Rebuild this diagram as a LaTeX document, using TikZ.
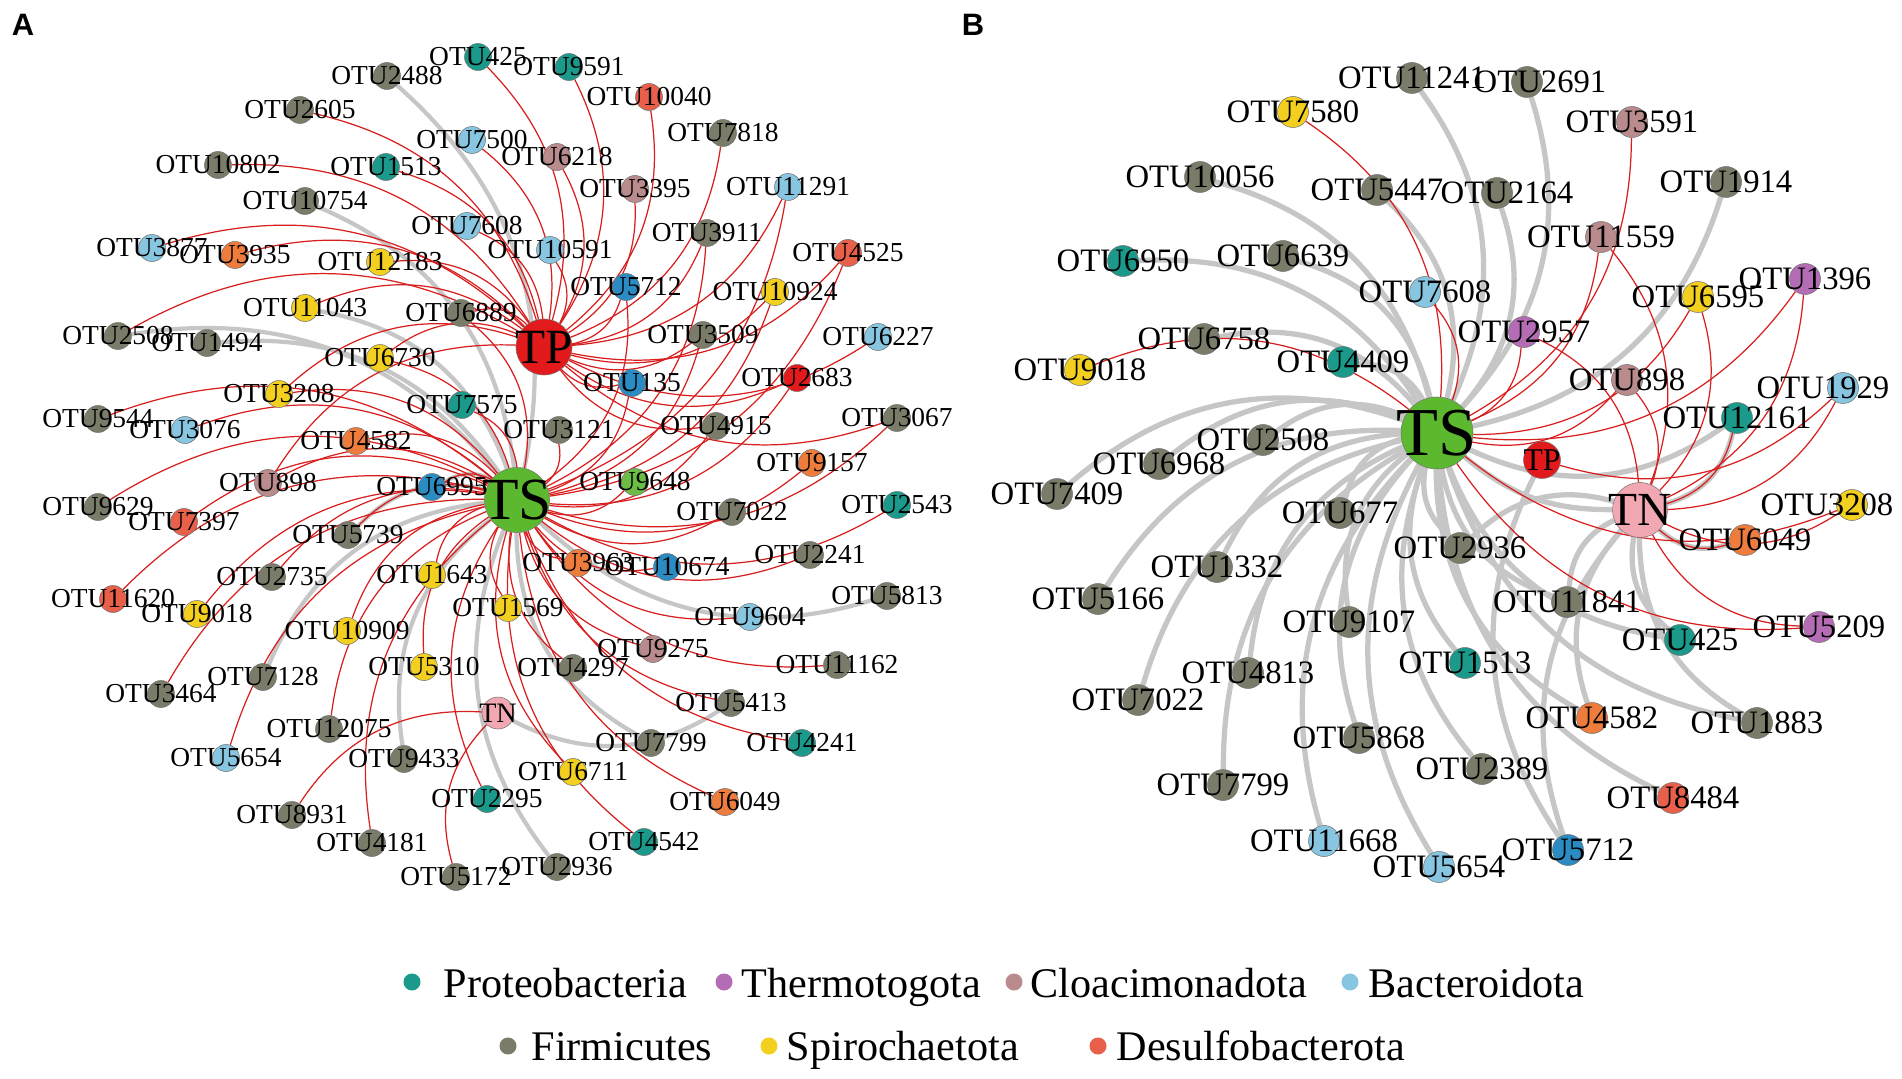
\documentclass[tikz,border=0pt]{standalone}
\usepackage{fontspec}
\setmainfont{Liberation Serif}
\setsansfont{Liberation Sans}
\usetikzlibrary{positioning}
\pgfdeclarelayer{background}
\pgfsetlayers{background,main}

\definecolor{proteo}{HTML}{1B9A8C}
\definecolor{thermo}{HTML}{B46CB4}
\definecolor{cloaci}{HTML}{B98B8C}
\definecolor{bactero}{HTML}{87C5E1}
\definecolor{firmi}{HTML}{7B7B69}
\definecolor{spiro}{HTML}{F3CF1F}
\definecolor{desulfo}{HTML}{E9604A}
\definecolor{orng}{HTML}{EE7C3C}
\definecolor{dblue}{HTML}{2A8CC3}
\definecolor{bred}{HTML}{E31A1C}
\definecolor{tsgreen}{HTML}{5CB82E}
\definecolor{lgreen}{HTML}{6CBD45}
\definecolor{tnpink}{HTML}{F2A8B2}
\definecolor{edgered}{HTML}{D81E1E}
\definecolor{edgegray}{HTML}{C6C6C6}

\tikzset{
  otua/.style={circle,draw=black!55,line width=0.15pt,minimum size=0.27cm,inner sep=0pt},
  otub/.style={otua,minimum size=0.31cm},
  lbla/.style={inner sep=0pt,font=\fontsize{7.8}{8}\selectfont},
  lblb/.style={inner sep=0pt,font=\fontsize{9.3}{10}\selectfont},
  hub/.style={circle,draw=black!55,line width=0.15pt,inner sep=0pt},
  redge/.style={draw=edgered,line width=0.35pt},
  gedge/.style={draw=edgegray,line width=1.2pt},
  gedgeb/.style={draw=edgegray,line width=1.5pt},
  ldot/.style={circle,inner sep=0pt,minimum size=0.17cm},
  ltxt/.style={anchor=base west,inner sep=0pt,font=\fontsize{12}{13}\selectfont},
  panel/.style={inner sep=0pt,font=\sffamily\bfseries\fontsize{8.8}{9}\selectfont},
}

% one OTU: [label shift], panel, number, position, colour
\newcommand{\otu}[5][0]{%
  \node[otu#2,fill=#5] (#2#3) at (#4) {};
  \node[lbl#2,xshift=#1*0.01cm] (#2#3t) at (#2#3) {OTU#3};}

\begin{document}
\begin{tikzpicture}[x=0.01cm,y=-0.01cm]
\useasboundingbox (0,0) rectangle (1902,1079);

\node[panel] (pA) at (23,25) {A};
\node[panel] (pB) at (973,25) {B};

% panel A hubs
\node[hub,fill=bred,minimum size=0.56cm] (aTP) at (544,347) {};
\node[hub,fill=tsgreen,minimum size=0.65cm] (aTS) at (517,500) {};
\node[hub,fill=tnpink,minimum size=0.32cm] (aTN) at (498,713) {};

% panel A OTUs
\otu{a}{425}{478,57}{proteo}
\otu{a}{9591}{569,67}{proteo}
\otu{a}{2488}{387,76}{firmi}
\otu{a}{10040}{649,97}{desulfo}
\otu{a}{2605}{300,110}{firmi}
\otu{a}{7818}{723,133}{firmi}
\otu{a}{7500}{472,140}{bactero}
\otu{a}{6218}{557,157}{cloaci}
\otu{a}{10802}{218,165}{firmi}
\otu{a}{1513}{386,167}{proteo}
\otu{a}{3395}{635,189}{cloaci}
\otu{a}{11291}{788,187}{bactero}
\otu{a}{10754}{305,201}{firmi}
\otu{a}{7608}{467,226}{bactero}
\otu{a}{3911}{707,233}{firmi}
\otu{a}{3877}{152,248}{bactero}
\otu{a}{3935}{235,255}{orng}
\otu{a}{12183}{380,262}{spiro}
\otu{a}{10591}{550,250}{bactero}
\otu{a}{4525}{848,253}{desulfo}
\otu{a}{5712}{626,287}{dblue}
\otu{a}{10924}{775,292}{spiro}
\otu{a}{11043}{305,308}{spiro}
\otu{a}{6889}{461,313}{firmi}
\otu{a}{2508}{118,336}{firmi}
\otu{a}{1494}{207,343}{firmi}
\otu{a}{3509}{703,335}{firmi}
\otu{a}{6227}{878,337}{bactero}
\otu{a}{6730}{380,358}{spiro}
\otu{a}{3208}{279,394}{spiro}
\otu{a}{135}{632,383}{dblue}
\otu{a}{2683}{797,378}{bred}
\otu{a}{7575}{462,405}{proteo}
\otu{a}{9544}{98,419}{firmi}
\otu{a}{3076}{185,430}{bactero}
\otu{a}{3121}{559,430}{firmi}
\otu{a}{4915}{716,426}{firmi}
\otu{a}{3067}{897,418}{firmi}
\otu{a}{4582}{356,441}{orng}
\otu{a}{9157}{812,463}{orng}
\otu{a}{898}{268,483}{cloaci}
\otu{a}{6995}{432,487}{dblue}
\otu{a}{9648}{635,482}{lgreen}
\otu{a}{9629}{98,507}{firmi}
\otu{a}{7397}{184,522}{desulfo}
\otu{a}{7022}{732,512}{firmi}
\otu{a}{2543}{897,505}{proteo}
\otu{a}{5739}{348,535}{firmi}
\otu{a}{3963}{578,563}{orng}
\otu{a}{10674}{667,567}{dblue}
\otu{a}{2241}{810,555}{firmi}
\otu{a}{2735}{272,577}{firmi}
\otu{a}{1643}{432,575}{spiro}
\otu{a}{11620}{113,599}{desulfo}
\otu{a}{9018}{197,614}{spiro}
\otu{a}{1569}{508,608}{spiro}
\otu{a}{9604}{750,617}{bactero}
\otu{a}{5813}{887,596}{firmi}
\otu{a}{10909}{347,631}{spiro}
\otu{a}{9275}{653,649}{cloaci}
\otu{a}{7128}{263,677}{firmi}
\otu{a}{5310}{424,667}{spiro}
\otu{a}{4297}{573,668}{firmi}
\otu{a}{11162}{837,665}{firmi}
\otu{a}{3464}{161,694}{firmi}
\otu{a}{5413}{731,703}{firmi}
\otu{a}{12075}{329,729}{firmi}
\otu{a}{5654}{226,758}{bactero}
\otu{a}{9433}{404,759}{firmi}
\otu{a}{7799}{651,743}{firmi}
\otu{a}{4241}{802,743}{proteo}
\otu{a}{6711}{573,772}{spiro}
\otu{a}{2295}{487,799}{proteo}
\otu{a}{6049}{725,802}{orng}
\otu{a}{8931}{292,815}{firmi}
\otu{a}{4181}{372,843}{firmi}
\otu{a}{4542}{644,842}{proteo}
\otu{a}{5172}{456,877}{firmi}
\otu{a}{2936}{557,867}{firmi}

\node[inner sep=0pt,font=\fontsize{14}{14}\selectfont] (aTPt) at (aTP) {TP};
\node[inner sep=0pt,font=\fontsize{17}{17}\selectfont] (aTSt) at (aTS) {TS};
\node[inner sep=0pt,font=\fontsize{8}{8}\selectfont] (aTNt) at (aTN) {TN};

% panel B hubs
\node[hub,fill=tsgreen,minimum size=0.72cm] (bTS) at (1437,433) {};
\node[hub,fill=bred,minimum size=0.37cm] (bTP) at (1542,460) {};
\node[hub,fill=tnpink,minimum size=0.55cm] (bTN) at (1640,510) {};

% panel B OTUs
\otu{b}{11241}{1412,78}{firmi}
\otu[13]{b}{2691}{1527,82}{firmi}
\otu{b}{7580}{1293,112}{spiro}
\otu{b}{3591}{1632,122}{cloaci}
\otu{b}{10056}{1200,177}{firmi}
\otu{b}{5447}{1377,190}{firmi}
\otu[10]{b}{2164}{1497,193}{firmi}
\otu{b}{1914}{1726,182}{firmi}
\otu{b}{6950}{1123,261}{proteo}
\otu{b}{6639}{1283,256}{firmi}
\otu{b}{11559}{1601,237}{cloaci}
\otu{b}{7608}{1425,292}{bactero}
\otu{b}{1396}{1805,279}{thermo}
\otu{b}{6595}{1698,297}{spiro}
\otu{b}{2957}{1524,332}{thermo}
\otu{b}{6758}{1204,339}{firmi}
\otu{b}{4409}{1343,362}{proteo}
\otu{b}{9018}{1080,370}{spiro}
\otu{b}{898}{1627,380}{cloaci}
\otu[-20]{b}{1929}{1843,388}{bactero}
\otu{b}{12161}{1737,418}{proteo}
\otu{b}{2508}{1263,440}{firmi}
\otu{b}{6968}{1159,464}{firmi}
\otu{b}{7409}{1057,494}{firmi}
\otu[-25]{b}{3208}{1852,505}{spiro}
\otu{b}{677}{1340,513}{firmi}
\otu{b}{6049}{1745,540}{orng}
\otu{b}{2936}{1460,548}{firmi}
\otu{b}{1332}{1217,567}{firmi}
\otu{b}{5166}{1098,599}{firmi}
\otu{b}{11841}{1567,602}{firmi}
\otu{b}{9107}{1349,622}{firmi}
\otu{b}{5209}{1819,627}{thermo}
\otu{b}{425}{1680,640}{proteo}
\otu{b}{1513}{1465,663}{proteo}
\otu{b}{4813}{1248,673}{firmi}
\otu{b}{7022}{1138,700}{firmi}
\otu{b}{5868}{1359,738}{firmi}
\otu{b}{4582}{1592,718}{orng}
\otu{b}{1883}{1757,723}{firmi}
\otu{b}{2389}{1482,769}{firmi}
\otu{b}{8484}{1673,798}{desulfo}
\otu{b}{7799}{1223,785}{firmi}
\otu{b}{11668}{1324,841}{bactero}
\otu{b}{5654}{1439,867}{bactero}
\otu{b}{5712}{1568,850}{dblue}

\node[inner sep=0pt,font=\fontsize{19.5}{20}\selectfont] (bTSt) at (bTS) {TS};
\node[inner sep=0pt,font=\fontsize{9}{9}\selectfont] (bTPt) at (bTP) {TP};
\node[inner sep=0pt,font=\fontsize{13.5}{14}\selectfont] (bTNt) at (bTN) {TN};

\begin{pgfonlayer}{background}
  % panel A
  \foreach \n in {2488,10754,1494,2508,5739,7128,9433,2936,7799,5813,6995,11043}
    \draw[gedge] (aTS) to[bend right=30] (a\n);
  \draw[gedge] (aTN) to[bend right=30] (a5413);
  \foreach \n in {425,9591,10040,7818,2605,7500,6218,3395,11291,10802,1513,3911,10591,4525,5712,10924,3877,3935,12183,11043,6889,3509,6227,2683,135,6730,2508,3208,7608,898,3067,4915}
    \draw[redge] (aTP) to[bend right=30] (a\n);
  \foreach \n in {9544,3076,4582,9629,7397,898,6995,5739,2735,1643,11620,9018,10909,5310,3464,12075,5654,4181,2295,6711,4542,6049,4241,11162,9275,9604,2241,10674,3963,2543,7022,9157,3067,4915,9648,1569,7575,6730,3208,135,2683,3509,5712,3911,4525,10924,11291,6889,5413,4297,3121}
    \draw[redge] (aTS) to[bend right=30] (a\n);
  \foreach \n in {8931,5172}
    \draw[redge] (aTN) to[bend right=30] (a\n);
  % panel B
  \foreach \n in {11241,2691,10056,5447,2164,6950,6639,6758,4409,2508,6968,7409,677,1332,5166,9107,4813,7022,5868,7799,11668,2389,5654,1513,2936,11841,4582,1883,8484,425,12161,1914}
    \draw[gedgeb] (bTS) to[bend right=30] (b\n);
  \foreach \n in {12161,4582,11841,5712,425,1883,6049,2936}
    \draw[gedgeb] (bTN) to[bend right=30] (b\n);
  \draw[gedgeb] (bTS) to[bend right=20] (bTN);
  \draw[gedgeb] (bTP) to[bend right=30] (b5712);
  \foreach \n in {7580,7608,9018,2957,3591,11559,898,6595,1396,3208,5209}
    \draw[redge] (bTS) to[bend right=30] (b\n);
  \foreach \n in {11559,2957,898,6595,1396,1929,12161,3208,5209,6049}
    \draw[redge] (bTN) to[bend right=30] (b\n);
  \draw[redge] (bTP) to[bend right=30] (b1929);
\end{pgfonlayer}

% legend
\node[ldot,fill=proteo] (lg1) at (412,982) {};
\node[ltxt] (lg1t) at (443,997) {Proteobacteria};
\node[ldot,fill=thermo] (lg2) at (724,982) {};
\node[ltxt] (lg2t) at (741,997) {Thermotogota};
\node[ldot,fill=cloaci] (lg3) at (1014,982) {};
\node[ltxt] (lg3t) at (1030,997) {Cloacimonadota};
\node[ldot,fill=bactero] (lg4) at (1350,982) {};
\node[ltxt] (lg4t) at (1368,997) {Bacteroidota};
\node[ldot,fill=firmi] (lg5) at (508,1046) {};
\node[ltxt] (lg5t) at (531,1060) {Firmicutes};
\node[ldot,fill=spiro] (lg6) at (769,1046) {};
\node[ltxt] (lg6t) at (786,1060) {Spirochaetota};
\node[ldot,fill=desulfo] (lg7) at (1098,1046) {};
\node[ltxt] (lg7t) at (1116,1060) {Desulfobacterota};
\end{tikzpicture}
\end{document}
